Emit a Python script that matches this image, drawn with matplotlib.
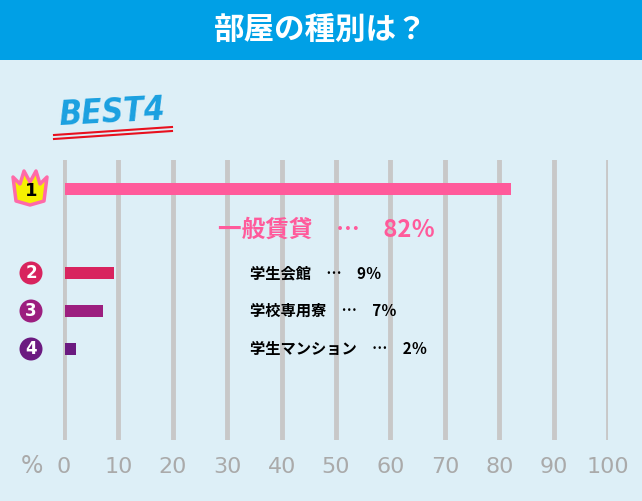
import matplotlib.pyplot as plt
from matplotlib.patches import Polygon, Ellipse, Rectangle

plt.rcParams["font.family"] = "Noto Sans CJK JP"

categories = ["一般賃貸", "学生会館", "学校専用寮", "学生マンション"]
values = [82, 9, 7, 2]
ticks = [0, 10, 20, 30, 40, 50, 60, 70, 80, 90, 100]
colors = ["#ff5a9b", "#d8245e", "#9c1f7f", "#6b1a80"]
bar_y = [189, 273, 311, 349]  # pixel rows

W, H = 642, 501
fig = plt.figure(figsize=(W / 100, H / 100), dpi=100)
fig.patch.set_facecolor("#ddeff7")


def fx(x):
    return x / W


def fy(y):
    return 1 - y / H


# title bar
fig.patches.append(Rectangle((0, fy(60)), 1, 60 / H, transform=fig.transFigure,
                             facecolor="#00a0e6", edgecolor="none"))
fig.text(0.5, fy(30), "部屋の種別は？", color="white", fontsize=22,
         fontweight="bold", ha="center", va="center")

# BEST4 logo
fig.text(fx(112), fy(113), "BEST4", color="#1aa0e0", fontsize=24,
         fontweight="black", fontstyle="italic", ha="center", va="center",
         rotation=3, family="DejaVu Sans", fontstretch="condensed")
for dy in (0, 4):
    fig.add_artist(plt.Line2D([fx(54), fx(172)], [fy(135 + dy), fy(127 + dy)],
                              color="#e8101e", lw=1.5, transform=fig.transFigure))

ax = fig.add_axes([fx(63), fy(440), (608 - 63) / W, 280 / H])
ax.set_facecolor("none")
ax.set_xlim(-0.2, 99.8)
ax.set_ylim(440, 160)
for t in ticks:
    ax.axvline(t, color="#c8c8c8", lw=3.5, zorder=0)
ax.barh(bar_y, values, height=12, color=colors, left=0.2, zorder=2)
for s in ax.spines.values():
    s.set_visible(False)
ax.set_yticks([])
ax.set_xticks(ticks)
ax.set_xticklabels([str(t) for t in ticks], color="#aaaaaa", fontsize=16,
                   family="DejaVu Sans")
ax.tick_params(axis="x", length=0, pad=12)
fig.text(fx(32), fy(466), "%", color="#aaaaaa", fontsize=17, ha="center",
         va="center", family="DejaVu Sans")

# labels
fig.text(fx(218), fy(230), f"{categories[0]}　…　{values[0]}％", color="#ff5a9b",
         fontsize=17, fontweight="bold", va="center")
for i in range(1, 4):
    fig.text(fx(250), fy(bar_y[i]), f"{categories[i]}　…　{values[i]}％",
             color="black", fontsize=11, fontweight="bold", va="center")

# crown badge
crown = [(13, 177), (20, 184), (24, 171), (30, 182), (36, 171), (40, 184),
         (47, 177), (44, 201), (30, 205), (16, 201)]
fig.patches.append(Polygon([(fx(x), fy(y)) for x, y in crown], closed=True,
                           transform=fig.transFigure, facecolor="#f6f000",
                           edgecolor="#ff6aa8", lw=2.5, joinstyle="round"))
fig.text(fx(31), fy(191), "1", fontsize=13, fontweight="black", ha="center",
         va="center", family="DejaVu Sans")

# number badges
for i in range(1, 4):
    fig.patches.append(Ellipse((fx(31), fy(bar_y[i])), 23 / W, 23 / H,
                               transform=fig.transFigure, facecolor=colors[i],
                               edgecolor="none"))
    fig.text(fx(31), fy(bar_y[i]), str(i + 1), color="white", fontsize=12,
             fontweight="black", ha="center", va="center", family="DejaVu Sans")

fig.savefig("out.png", dpi=100, facecolor=fig.get_facecolor())
